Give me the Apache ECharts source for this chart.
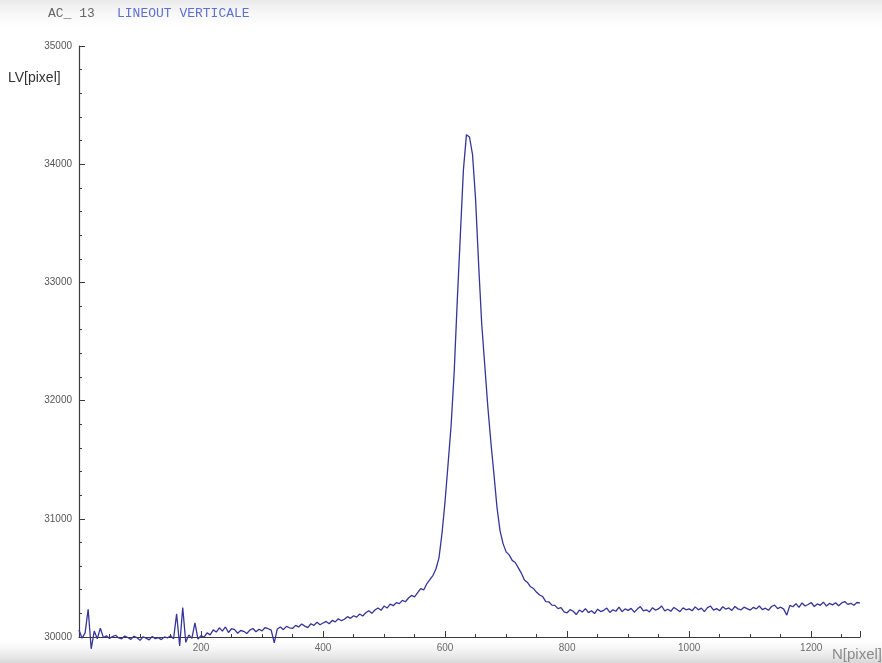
<!DOCTYPE html>
<html>
<head>
<meta charset="utf-8">
<script src="https://cdn.jsdelivr.net/npm/echarts@6/dist/echarts.min.js"></script>
<style>
html,body{margin:0;padding:0;background:#fff;}
#c{width:882px;height:663px;}
</style>
</head>
<body>
<div id="c"></div>
<script>
// Sampling grid of the lineout (N[pixel]), one sample every 5 pixels
const sampleStart = 0;
const sampleStep = 5;
// LV[pixel] values, one per sample
const lv = [
  30060,29990,30035,30235,29900,30050,29985,30075,29995,30010,29988,30004,30015,29992,29985,30008,29996,29980,30006,29994,
  29972,30002,29990,29976,30004,29986,29995,29978,30001,29992,30010,29985,30195,29925,30250,29955,30018,29988,30120,29982,
  30012,29998,30035,30018,30060,30042,30078,30050,30085,30038,30070,30062,30032,30055,30048,30030,30058,30072,30044,30066,
  30052,30080,30070,30058,29950,30068,30085,30062,30090,30078,30072,30098,30085,30110,30092,30080,30112,30098,30125,30104,
  30118,30132,30112,30140,30128,30155,30138,30150,30172,30158,30180,30168,30195,30178,30205,30222,30200,30228,30245,30226,
  30262,30245,30278,30265,30290,30282,30310,30298,30330,30352,30340,30375,30410,30398,30450,30485,30520,30575,30670,30880,
  31150,31470,31800,32250,32850,33400,33950,34250,34230,34080,33700,33150,32650,32300,31950,31650,31380,31100,30900,30790,
  30720,30695,30648,30630,30585,30540,30482,30462,30425,30410,30378,30355,30342,30300,30298,30270,30268,30240,30248,30212,
  30205,30232,30218,30190,30228,30212,30240,30206,30222,30198,30235,30215,30226,30245,30208,30230,30218,30252,30214,30238,
  30225,30242,30210,30236,30258,30222,30230,30212,30248,30226,30240,30262,30220,30235,30218,30250,30232,30214,30246,30230,
  30238,30222,30255,30230,30244,30215,30248,30262,30228,30240,30222,30256,30236,30246,30225,30258,30238,30230,30252,30240,
  30228,30250,30238,30262,30232,30244,30226,30258,30270,30240,30252,30236,30185,30268,30256,30282,30250,30288,30262,30275,
  30292,30258,30280,30268,30295,30262,30284,30272,30290,30265,30288,30300,30276,30285,30268,30292,30288
];
const xTicks = [0, 200, 400, 600, 800, 1000, 1200];
const yTicks = [30000, 31000, 32000, 33000, 34000, 35000];

const data = lv.map((v, i) => [sampleStart + i * sampleStep, v]);

const chart = echarts.init(document.getElementById('c'), null, {renderer: 'canvas'});
const axisCol = '#3a3a3a';
chart.setOption({
  backgroundColor: '#ffffff',
  animation: false,
  grid: {left: 79, right: 22, top: 46, bottom: 26, containLabel: false},
  xAxis: {
    type: 'value',
    min: 0, max: 1280, interval: 200,
    axisLine: {show: true, onZero: false, lineStyle: {color: axisCol, width: 1.2}},
    axisTick: {show: true, inside: true, length: 6, lineStyle: {color: axisCol}},
    minorTick: {show: true, splitNumber: 4, length: 3, lineStyle: {color: axisCol}},
    splitLine: {show: false},
    axisLabel: {
      show: true, margin: 6, color: '#6a6a6a', fontSize: 10, fontFamily: 'Liberation Sans',
      showMinLabel: false, showMaxLabel: false,
      formatter: v => (xTicks.indexOf(v) > 0 ? String(v) : '')
    }
  },
  yAxis: {
    type: 'value',
    min: 30000, max: 35000, interval: 1000,
    axisLine: {show: true, onZero: false, lineStyle: {color: axisCol, width: 1.2}},
    axisTick: {show: true, inside: true, length: 6, lineStyle: {color: axisCol}},
    minorTick: {show: true, splitNumber: 5, length: 3, lineStyle: {color: axisCol}},
    splitLine: {show: false},
    axisLabel: {
      show: true, margin: 7, color: '#555555', fontSize: 10, fontFamily: 'Liberation Sans',
      formatter: v => (yTicks.indexOf(v) >= 0 ? String(v) : '')
    }
  },
  graphic: [
    {type: 'rect', z: -10, silent: true, shape: {x: 0, y: 640, width: 882, height: 23},
     style: {fill: new echarts.graphic.LinearGradient(0, 0, 0, 1, [
       {offset: 0, color: 'rgba(235,235,235,0)'}, {offset: 1, color: 'rgba(205,205,205,0.8)'}])}},
    {type: 'rect', z: -10, silent: true, shape: {x: 0, y: 0, width: 882, height: 30},
     style: {fill: new echarts.graphic.LinearGradient(0, 0, 0, 1, [
       {offset: 0, color: 'rgba(225,225,225,0.7)'}, {offset: 1, color: 'rgba(245,245,245,0)'}])}},
    {type: 'text', left: 48, top: 7, style: {text: 'AC_ 13', font: '13px "Liberation Mono"', fill: '#666666'}},
    {type: 'text', left: 117, top: 7, style: {text: 'LINEOUT VERTICALE', font: '13px "Liberation Mono"', fill: '#5f6fd0'}},
    {type: 'text', left: 8, top: 71, style: {text: 'LV[pixel]', font: '14px "Liberation Sans"', fill: '#333333'}},
    {type: 'text', left: 832, top: 647, style: {text: 'N[pixel]', font: '15px "Liberation Sans"', fill: '#8a8a8a'}}
  ],
  series: [{
    type: 'line',
    data: data,
    showSymbol: false,
    clip: false,
    lineStyle: {color: '#35359a', width: 1.3},
    itemStyle: {color: '#35359a'}
  }]
});
</script>
</body>
</html>
